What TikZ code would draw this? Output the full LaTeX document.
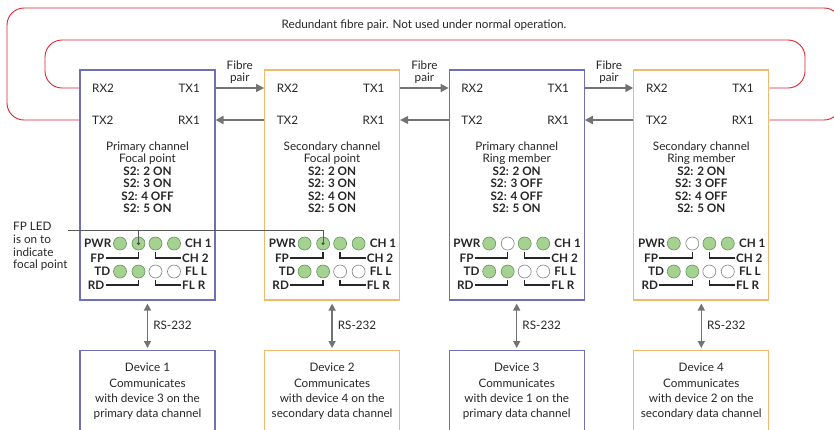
\documentclass[tikz,border=0pt]{standalone}
\usepackage{fontspec}
\setmainfont{Lato}
\usetikzlibrary{arrows.meta}

\definecolor{unitblue}{RGB}{110,110,185}
\definecolor{unitorange}{RGB}{240,185,110}
\definecolor{spare}{RGB}{220,35,45}
\definecolor{ledgreen}{RGB}{165,210,145}
\definecolor{ledrim}{RGB}{100,145,95}
\definecolor{wire}{RGB}{115,115,115}

\begin{document}
\begin{tikzpicture}[x=1pt,y=-1pt,
  every node/.style={inner sep=0pt,text=black!85,font=\fontsize{11.7}{12.5}\selectfont},
  unit/.style={draw=#1,line width=1.1pt,minimum width=135pt,minimum height=230pt},
  device/.style={draw=#1,line width=1.1pt,minimum width=135pt,minimum height=82pt,align=center,font=\fontsize{11.7}{15.3}\selectfont},
  ledon/.style={circle,draw=ledrim,fill=ledgreen,line width=0.6pt,minimum size=13pt},
  ledoff/.style={circle,draw=black!50,fill=white,line width=0.6pt,minimum size=13pt},
  ledfp/.style={ledon,path picture={\fill[black!75] (path picture bounding box.center) circle (1.6pt);}},
  ledtag/.style={font=\fontsize{11.7}{12}\selectfont\bfseries,inner sep=1pt},
  bracket/.style={draw=black!85,line width=1.3pt},
  fibre/.style={draw=wire,line width=1.5pt,-{Triangle[length=8pt,width=8pt]}},
  serial/.style={draw=wire,line width=1.5pt,{Triangle[length=7pt,width=7pt]}-{Triangle[length=7pt,width=7pt]},shorten <=3pt,shorten >=2pt},
  spareloop/.style={draw=spare,line width=0.9pt,rounded corners=17pt},
  callout/.style={draw=black!65,line width=0.6pt}]
  \useasboundingbox (0,0) rectangle (834,429);

  \foreach \cx/\col/\chan/\role/\sthree/\sfour/\fp/\mate/\peer [count=\i] in {
      147.5/unitblue/Primary/Focal point/ON/OFF/ledfp/3/primary,
      332.1/unitorange/Secondary/Focal point/ON/ON/ledfp/4/secondary,
      516.7/unitblue/Primary/Ring member/OFF/OFF/ledoff/1/primary,
      701.3/unitorange/Secondary/Ring member/OFF/OFF/ledoff/2/secondary}{
    \node[unit=\col] (unit-\i) at (\cx,185) {};
    % fibre ports
    \node[anchor=west] (rx2-\i) at (\cx-55.5,88) {RX2};
    \node[anchor=east] (tx1-\i) at (\cx+52.5,88) {TX1};
    \node[anchor=west] (tx2-\i) at (\cx-55.5,120) {TX2};
    \node[anchor=east] (rx1-\i) at (\cx+52.5,120) {RX1};
    % switch settings
    \node[align=center] (cfg-\i) at (\cx,177) {\chan\ channel\\\role\\\textbf{S2: 2 ON}\\\textbf{S2: 3 \sthree}\\\textbf{S2: 4 \sfour}\\\textbf{S2: 5 ON}};
    % front panel leds
    \node[ledon] (led-\i-1) at (\cx-27.5,243.5) {};
    \node[\fp] (led-\i-2) at (\cx-9,243.5) {};
    \node[ledon] (led-\i-3) at (\cx+8,243.5) {};
    \node[ledon] (led-\i-4) at (\cx+26.5,243.5) {};
    \node[ledon] (led-\i-5) at (\cx-27.5,271.5) {};
    \node[ledon] (led-\i-6) at (\cx-9,271.5) {};
    \node[ledoff] (led-\i-7) at (\cx+8,271.5) {};
    \node[ledoff] (led-\i-8) at (\cx+26.5,271.5) {};
    \node[ledtag,anchor=east] (pwr-\i) at (\cx-35,243.5) {PWR};
    \node[ledtag,anchor=west] (ch1-\i) at (\cx+36.5,243.5) {CH 1};
    \node[ledtag,anchor=east] (fp-\i) at (\cx-42,258) {FP};
    \node[ledtag,anchor=west] (ch2-\i) at (\cx+33.5,258) {CH 2};
    \node[ledtag,anchor=east] (td-\i) at (\cx-36,271.5) {TD};
    \node[ledtag,anchor=west] (fll-\i) at (\cx+36.5,271.5) {FL L};
    \node[ledtag,anchor=east] (rd-\i) at (\cx-42,285) {RD};
    \node[ledtag,anchor=west] (flr-\i) at (\cx+33.5,285) {FL R};
    \draw[bracket] (fp-\i.east) -| ([yshift=-2pt]led-\i-2.south);
    \draw[bracket] ([yshift=-2pt]led-\i-3.south) |- (ch2-\i.west);
    \draw[bracket] (rd-\i.east) -| ([yshift=-2pt]led-\i-6.south);
    \draw[bracket] ([yshift=-2pt]led-\i-7.south) |- (flr-\i.west);
    % attached device
    \node[device=\col,anchor=north] (dev-\i) at (\cx,350) {Device \i\\Communicates\\with device \mate\ on the\\\peer\ data channel};
    \draw[serial] (unit-\i.south) -- node[right=5pt] {RS-232} (dev-\i.north);
  }

  % fibre pairs between neighbours
  \foreach \a/\b in {1/2,2/3,3/4}{
    \draw[fibre] (unit-\a.east |- tx1-\a) -- node[above=4pt,align=center,font=\fontsize{11.7}{12}\selectfont] {Fibre\\pair} (unit-\b.west |- tx1-\a);
    \draw[fibre] (unit-\b.west |- tx2-\b) -- (unit-\a.east |- tx2-\b);
  }

  % spare pair closing the ring
  \draw[spareloop] (unit-1.west |- rx2-1) -- (45,88) -- (45,40) -- (805,40) -- (805,88) -- (unit-4.east |- tx1-4);
  \draw[spareloop] (unit-1.west |- tx2-1) -- (7,120) -- (7,8) -- (841,8) -- (841,120) -- (unit-4.east |- rx1-4);
  \node (spare-note) at (424,25) {Redundant fibre pair. Not used under normal operation.};

  % focal point note
  \node[anchor=north west,align=left,font=\fontsize{11.7}{12.8}\selectfont] (fpnote) at (13,222) {FP LED\\is on to\\indicate\\focal point};
  \coordinate (fptap) at (68,230.7);
  \draw[callout] (fptap) -| (led-2-2.center);
  \draw[callout] (led-1-2.center |- fptap) -- (led-1-2.center);
\end{tikzpicture}
\end{document}
